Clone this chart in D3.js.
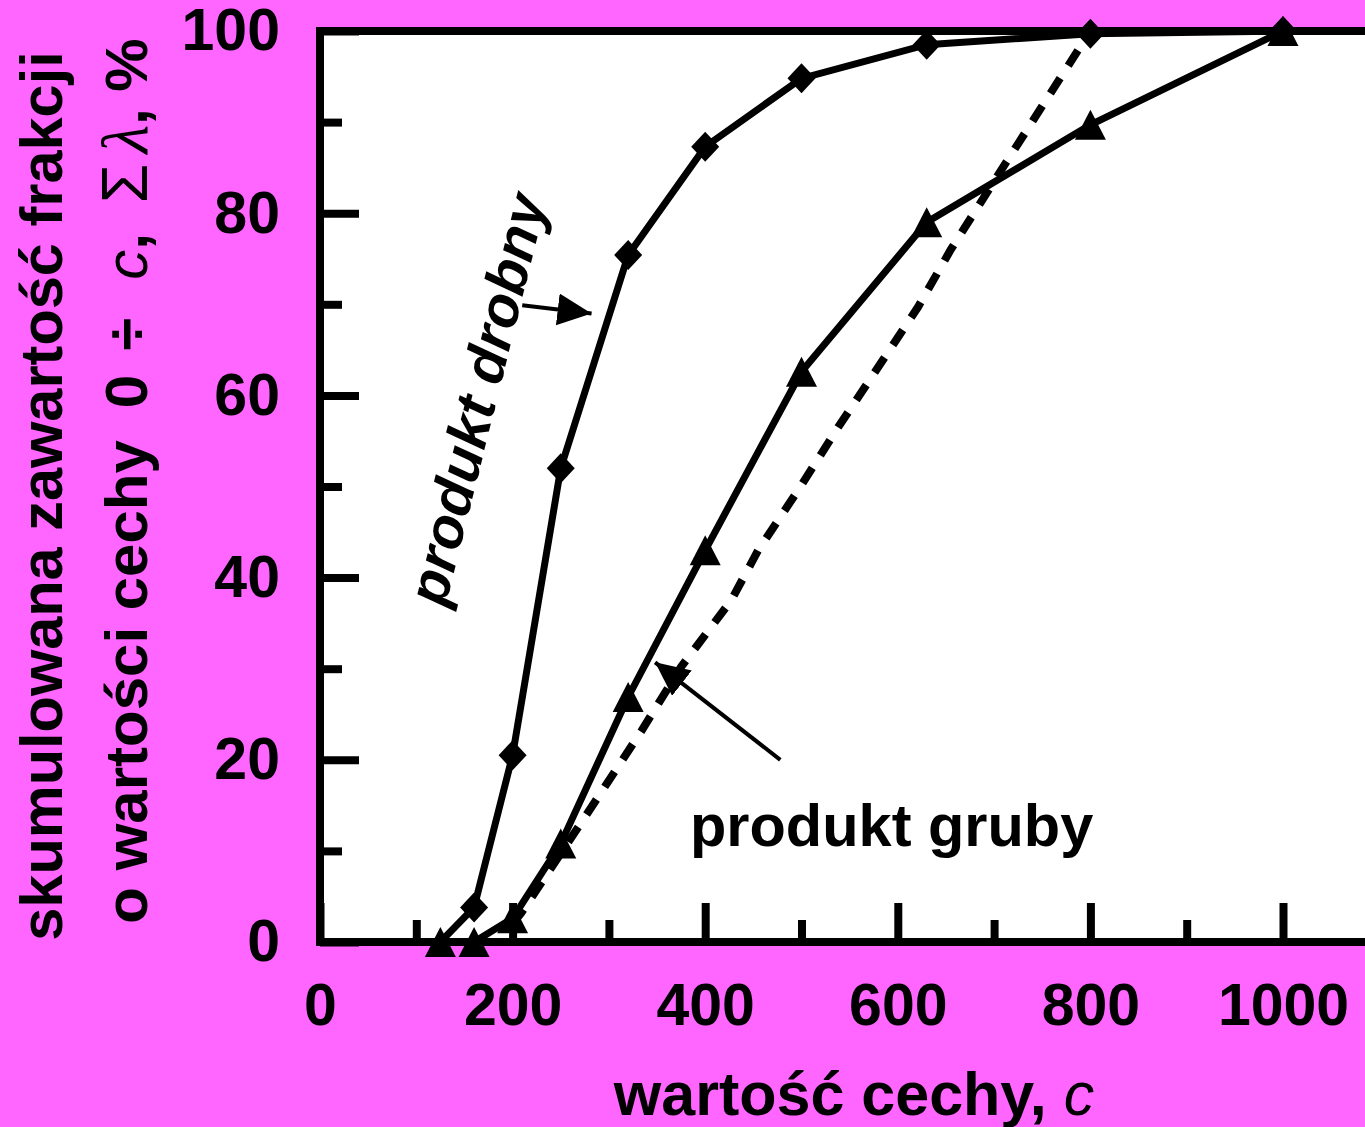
<html>
<script src='https://d3js.org/d3.v7.min.js'></script>
<style>
body {margin: 0; background: #ff66ff;}
text {font-family: 'Liberation Sans', Arial, sans-serif; font-weight: bold; fill: black;}
</style>
<body onload='init()'>
<svg width=1365 height=1127></svg>
<script>
// sieve sizes (wartość cechy, c)
var sizes = [125, 160, 200, 250, 320, 400, 500, 630, 800, 1000]
// produkt drobny (diamonds)
var fineVals = [0, 3.8, 20.5, 52, 75.4, 87.3, 94.8, 98.5, 99.7, 100]
// produkt gruby (triangles)
var coarseVals = [0, 0, 2.6, 10.8, 26.9, 43, 62.6, 79, 89.7, 100]
// dashed curve
var dashX = [200, 209, 275, 334, 375, 427, 455, 499, 538, 579, 621, 655, 712, 800]
var dashY = [2, 3.2, 13.7, 23.2, 30.2, 37.5, 43, 50, 56.5, 63, 69.7, 76, 85.5, 100]

var xMajor = [0, 200, 400, 600, 800, 1000]
var xMinor = [100, 300, 500, 700, 900]
var yMajor = [0, 20, 40, 60, 80, 100]
var yMinor = [10, 30, 50, 70, 90]

function init() {
	var svg = d3.select('svg')

	var x = d3.scaleLinear().domain([0, 1000]).range([320, 1283])
	var y = d3.scaleLinear().domain([0, 100]).range([942, 31])

	// plot area
	svg.append('rect')
		.attr('x', x(0)).attr('y', y(100))
		.attr('width', 1400).attr('height', y(0) - y(100))
		.attr('fill', 'white')

	// minor ticks
	svg.append('g')
		.attr('transform', 'translate(0,' + y(0) + ')')
		.call(d3.axisBottom(x).tickValues(xMinor).tickSizeInner(-22).tickSizeOuter(0).tickFormat(''))
		.call(g => g.select('.domain').remove())
		.selectAll('line').attr('stroke-width', 8)
	svg.append('g')
		.attr('transform', 'translate(' + x(0) + ',0)')
		.call(d3.axisLeft(y).tickValues(yMinor).tickSizeInner(-22).tickSizeOuter(0).tickFormat(''))
		.call(g => g.select('.domain').remove())
		.selectAll('line').attr('stroke-width', 8)

	// major ticks + labels
	var xa = svg.append('g')
		.attr('transform', 'translate(0,' + y(0) + ')')
		.call(d3.axisBottom(x).tickValues(xMajor).tickSizeInner(-39).tickSizeOuter(0).tickPadding(41).tickFormat(d3.format('d')))
	xa.select('.domain').remove()
	xa.selectAll('line').attr('stroke-width', 8)
	xa.selectAll('text').style('font-size', '59px')

	var ya = svg.append('g')
		.attr('transform', 'translate(' + x(0) + ',0)')
		.call(d3.axisLeft(y).tickValues(yMajor).tickSizeInner(-39).tickSizeOuter(0).tickPadding(40).tickFormat(d3.format('d')))
	ya.select('.domain').remove()
	ya.selectAll('line').attr('stroke-width', 8)
	ya.selectAll('text').style('font-size', '59px')

	// frame lines
	svg.append('line').attr('x1', x(0)).attr('x2', 1400).attr('y1', y(0)).attr('y2', y(0))
		.attr('stroke', 'black').attr('stroke-width', 8)
	svg.append('line').attr('x1', x(0) - 4).attr('x2', 1400).attr('y1', y(100)).attr('y2', y(100))
		.attr('stroke', 'black').attr('stroke-width', 8)
	svg.append('line').attr('x1', x(0)).attr('x2', x(0)).attr('y1', y(100) - 4).attr('y2', y(0) + 4)
		.attr('stroke', 'black').attr('stroke-width', 8)

	var line = d3.line().x(d => x(d[0])).y(d => y(d[1]))
	var fine = sizes.map((s, i) => [s, fineVals[i]])
	var coarse = sizes.map((s, i) => [s, coarseVals[i]])
	var dashed = dashX.map((s, i) => [s, dashY[i]])

	svg.append('path').datum(dashed).attr('d', line)
		.attr('fill', 'none').attr('stroke', 'black').attr('stroke-width', 8)
		.attr('stroke-dasharray', '18,15')

	svg.append('path').datum(fine).attr('d', line)
		.attr('fill', 'none').attr('stroke', 'black').attr('stroke-width', 7)
	svg.append('path').datum(coarse).attr('d', line)
		.attr('fill', 'none').attr('stroke', 'black').attr('stroke-width', 7)

	svg.append('g').selectAll('path')
		.data(fine.filter(d => d[1] > 0))
		.enter().append('path')
		.attr('transform', d => 'translate(' + x(d[0]) + ',' + y(d[1]) + ')')
		.attr('d', 'M0,-15L14,0L0,15L-14,0Z')
		.attr('fill', 'black')

	svg.append('g').selectAll('path')
		.data(coarse)
		.enter().append('path')
		.attr('transform', d => 'translate(' + x(d[0]) + ',' + y(d[1]) + ')')
		.attr('d', 'M0,-15L15.5,15L-15.5,15Z')
		.attr('fill', 'black')

	// arrows
	svg.append('defs').append('marker')
		.attr('id', 'arr')
		.attr('markerUnits', 'userSpaceOnUse')
		.attr('markerWidth', 40).attr('markerHeight', 40)
		.attr('refX', 34).attr('refY', 16)
		.attr('orient', 'auto')
		.append('path').attr('d', 'M0,0L34,16L0,32Z').attr('fill', 'black')

	svg.append('line')
		.attr('x1', x(210)).attr('y1', y(69.9)).attr('x2', x(282)).attr('y2', y(69))
		.attr('stroke', 'black').attr('stroke-width', 4).attr('marker-end', 'url(#arr)')
	svg.append('line')
		.attr('x1', x(478)).attr('y1', y(20)).attr('x2', x(348)).attr('y2', y(30.7))
		.attr('stroke', 'black').attr('stroke-width', 4).attr('marker-end', 'url(#arr)')

	// annotations
	svg.append('text')
		.attr('transform', 'translate(445,608) rotate(-76)')
		.style('font-size', '57px').style('font-style', 'italic')
		.text('produkt drobny')
	svg.append('text')
		.attr('x', 690).attr('y', 846)
		.style('font-size', '59.5px')
		.text('produkt gruby')

	// axis titles
	var xt = svg.append('text')
		.attr('x', 854).attr('y', 1115)
		.attr('text-anchor', 'middle')
		.style('font-size', '61px')
	xt.append('tspan').text('wartość cechy, ')
	xt.append('tspan').style('font-style', 'italic').style('font-weight', 'normal').text('c')

	svg.append('text')
		.attr('transform', 'translate(62,496) rotate(-90)')
		.attr('text-anchor', 'middle')
		.style('font-size', '59.5px')
		.text('skumulowana zawartość frakcji')

	var yt = svg.append('text')
		.attr('transform', 'translate(147,481) rotate(-90)')
		.attr('text-anchor', 'middle')
		.style('font-size', '60px')
	yt.append('tspan').text('o wartości cechy')
	yt.append('tspan').attr('dx', 32).text('0')
	yt.append('tspan').attr('dx', 24).text('÷')
	yt.append('tspan').attr('dx', 38).style('font-style', 'italic').style('font-weight', 'normal').text('c')
	yt.append('tspan').text(',')
	yt.append('tspan').attr('dx', 30).style('font-weight', 'normal').style('font-size', '64px').text('Σ')
	yt.append('tspan').attr('dx', 10).style('font-style', 'italic').style('font-weight', 'normal')
		.style('font-family', "'Liberation Serif', serif").style('font-size', '66px').text('λ')
	yt.append('tspan').text(', %')
}
</script>
</body>
</html>
